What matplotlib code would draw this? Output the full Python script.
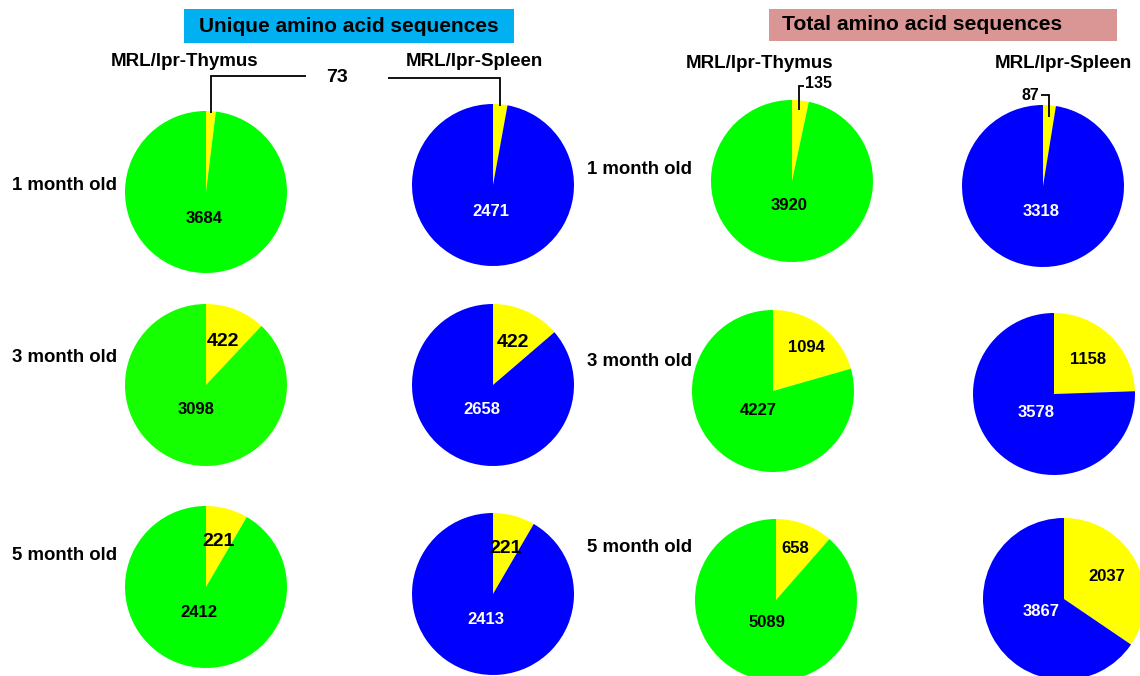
import numpy as np
import matplotlib
matplotlib.use("Agg")
import matplotlib.pyplot as plt
from matplotlib.patches import Rectangle

plt.rcParams['font.family'] = ['Liberation Sans', 'DejaVu Sans']
plt.rcParams['font.weight'] = 'bold'

# ---- data -------------------------------------------------------------
ages = ['1 month old', '3 month old', '5 month old']
tissues = ['MRL/lpr-Thymus', 'MRL/lpr-Spleen']

# unique amino acid sequences (shared between thymus and spleen / tissue only)
unique_shared = [73, 422, 221]
unique_thymus = [3684, 3098, 2412]
unique_spleen = [2471, 2658, 2413]

# total amino acid sequences
total_thymus_shared = [135, 1094, 658]
total_thymus = [3920, 4227, 5089]
total_spleen_shared = [87, 1158, 2037]
total_spleen = [3318, 3578, 3867]

# ---- styling / layout -------------------------------------------------
W, H = 1140, 676
R = 81  # pie radius in pixels
YELLOW = '#FFFF00'
GREEN = '#00FF00'
GREEN2 = '#15FF00'
BLUE = '#0000FF'
VAL_FS = 12

fig = plt.figure(figsize=(W / 100, H / 100), dpi=100)

# overlay axes in pixel coordinates for titles, labels and leader lines
ov = fig.add_axes([0, 0, 1, 1])
ov.set_xlim(0, W)
ov.set_ylim(H, 0)
ov.axis('off')
ov.set_zorder(10)
ov.patch.set_alpha(0)


def draw_pie(cx, cy, shared, own, color, text_color, small_r=0.65, big_r=0.33,
             small_fs=VAL_FS, big_fs=VAL_FS, label_small=True):
    ax = fig.add_axes([(cx - R) / W, 1 - (cy + R) / H, 2 * R / W, 2 * R / H])
    wedges, _ = ax.pie([shared, own], colors=[YELLOW, color], startangle=90,
                       counterclock=False, radius=1,
                       wedgeprops=dict(linewidth=0))
    ax.set_xlim(-1, 1)
    ax.set_ylim(-1, 1)
    ax.set_aspect('equal')
    ax.axis('off')

    def point(w, r):
        mid = np.deg2rad((w.theta1 + w.theta2) / 2)
        return cx + R * r * np.cos(mid), cy - R * r * np.sin(mid)

    bx, by = point(wedges[1], big_r)
    ov.text(bx, by, f'{own}', ha='center', va='center', fontsize=big_fs,
            color=text_color, fontweight='bold')
    if label_small:
        sx, sy = point(wedges[0], small_r)
        ov.text(sx, sy, f'{shared}', ha='center', va='center',
                fontsize=small_fs, color='black', fontweight='bold')
    return wedges


# pie centres (pixels) for each row
uniq_thy_c = [(206, 192), (206, 385), (206, 587)]
uniq_spl_c = [(493, 185), (493, 385), (493, 594)]
tot_thy_c = [(792, 181), (773, 391), (776, 600)]
tot_spl_c = [(1043, 186), (1054, 394), (1064, 599)]

thy_colors = [GREEN, GREEN2, GREEN]

for i in range(3):
    first = (i == 0)
    draw_pie(*uniq_thy_c[i], unique_shared[i], unique_thymus[i],
             thy_colors[i], 'black', small_r=0.58, small_fs=14,
             label_small=not first)
    draw_pie(*uniq_spl_c[i], unique_shared[i], unique_spleen[i],
             BLUE, 'white', small_r=0.58, small_fs=14,
             label_small=not first)
    draw_pie(*tot_thy_c[i], total_thymus_shared[i], total_thymus[i],
             GREEN, 'black', small_r=0.68, big_r=0.3,
             label_small=not first)
    draw_pie(*tot_spl_c[i], total_spleen_shared[i], total_spleen[i],
             BLUE, 'white', small_r=0.6, big_r=0.32,
             label_small=not first)


# leader lines for the 1-month pies (from the small wedge's mid-angle)
def wedge_tip(cx, cy, shared, own, r):
    frac = shared / (shared + own)
    ang = np.deg2rad(90 - 360 * frac / 2)
    return cx + R * r * np.cos(ang), cy - R * r * np.sin(ang)


lk = dict(color='black', lw=1.3, solid_capstyle='butt', solid_joinstyle='miter')

# shared label of the unique panel, linked to both pies
ov.text(337, 78, f'{unique_shared[0]}', ha='center', va='center',
        fontsize=14, fontweight='bold')
tx, ty = wedge_tip(*uniq_thy_c[0], unique_shared[0], unique_thymus[0], 0.98)
ov.plot([306, tx, tx], [76, 76, ty], **lk)
sx, sy = wedge_tip(*uniq_spl_c[0], unique_shared[0], unique_spleen[0], 0.98)
ov.plot([388, sx, sx], [78, 78, sy], **lk)

tx, ty = wedge_tip(*tot_thy_c[0], total_thymus_shared[0], total_thymus[0], 0.88)
ov.plot([tx + 5, tx, tx], [86, 86, ty], **lk)
ov.text(tx + 6, 84, f'{total_thymus_shared[0]}', ha='left', va='center',
        fontsize=11.5, fontweight='bold')
sx, sy = wedge_tip(*tot_spl_c[0], total_spleen_shared[0], total_spleen[0], 0.85)
ov.plot([sx - 8, sx, sx], [95, 95, sy], **lk)
ov.text(sx - 9, 95, f'{total_spleen_shared[0]}', ha='right', va='center',
        fontsize=11.5, fontweight='bold')

# panel titles
ov.add_patch(Rectangle((184, 9), 330, 34, facecolor='#00B0F0', edgecolor='none'))
ov.text(349, 26, 'Unique amino acid sequences', ha='center', va='center',
        fontsize=15, fontweight='bold')
ov.add_patch(Rectangle((769, 9), 348, 32, facecolor='#D99694', edgecolor='none'))
ov.text(922, 25, 'Total amino acid sequences', ha='center', va='center',
        fontsize=15.2, fontweight='bold')

# tissue headers
hdr = dict(ha='center', va='center', fontsize=13.5, fontweight='bold')
ov.text(185, 62, tissues[0], **hdr)
ov.text(474, 62, tissues[1], **hdr)
ov.text(760, 63, tissues[0], **hdr)
ov.text(1063, 63, tissues[1], **hdr)

# age row labels
for lab, y in zip(ages, [185, 358, 556]):
    ov.text(12, y, lab, ha='left', va='center', fontsize=13.4, fontweight='bold')
for lab, y in zip(ages, [170, 362, 547]):
    ov.text(587, y, lab, ha='left', va='center', fontsize=13.4, fontweight='bold')

fig.savefig('out.png', dpi=100)
